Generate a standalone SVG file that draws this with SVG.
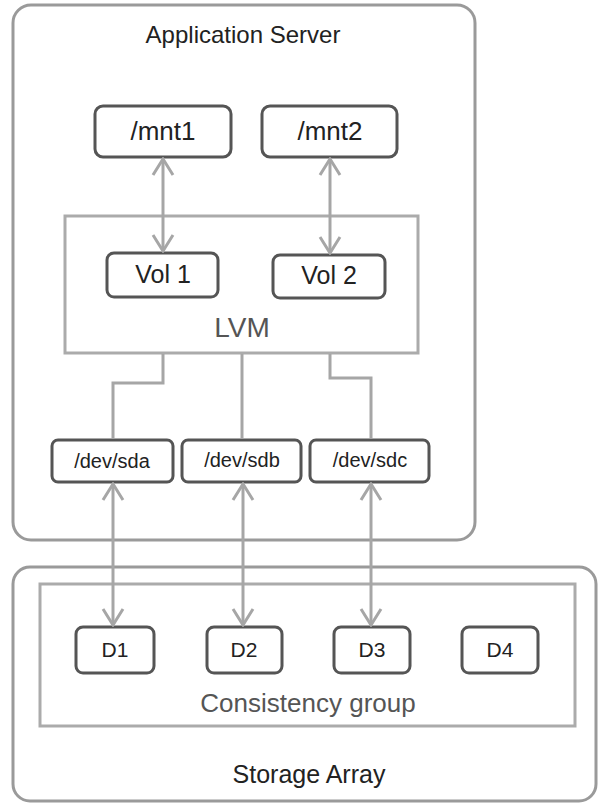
<svg xmlns="http://www.w3.org/2000/svg" width="598" height="803" viewBox="0 0 598 803">
  <style>
    .container { fill: #ffffff; stroke: #9a9a9a; stroke-width: 3; }
    .group { fill: none; stroke: #ababab; stroke-width: 3; }
    .node { fill: #ffffff; stroke: #555555; stroke-width: 3; }
    .conn { fill: none; stroke: #a6a6a6; stroke-width: 3; }
    .t { font-family: "Liberation Sans", Arial, sans-serif; text-anchor: middle; fill: #222222; }
    .tg { font-family: "Liberation Sans", Arial, sans-serif; text-anchor: middle; fill: #555555; }
  </style>
  <defs>
    <marker id="arr" viewBox="0 0 20 24" refX="18" refY="12" markerWidth="20" markerHeight="24" orient="auto-start-reverse" markerUnits="userSpaceOnUse">
      <path d="M2,2 L18,12 L2,22" fill="none" stroke="#a6a6a6" stroke-width="3"/>
    </marker>
  </defs>

  <g id="application-server">
    <rect class="container" x="13" y="5" width="462" height="535" rx="18"/>
    <text class="t" x="243" y="43" font-size="24">Application Server</text>
  </g>

  <g id="storage-array">
    <rect class="container" x="13" y="567" width="583" height="234" rx="17"/>
    <text class="t" x="309" y="783" font-size="25">Storage Array</text>
  </g>

  <g id="lvm">
    <rect class="group" x="65" y="216" width="353" height="137"/>
    <text class="tg" x="242" y="337" font-size="28">LVM</text>
  </g>

  <g id="consistency-group">
    <rect class="group" x="40" y="584" width="535" height="142"/>
    <text class="tg" x="308" y="712" font-size="26">Consistency group</text>
  </g>

  <g id="mnt1">
    <rect class="node" x="95" y="106" width="136" height="51" rx="8"/>
    <text class="t" x="163" y="140" font-size="26">/mnt1</text>
  </g>
  <g id="mnt2">
    <rect class="node" x="262" y="106" width="135" height="51" rx="8"/>
    <text class="t" x="330" y="140" font-size="26">/mnt2</text>
  </g>

  <g id="vol1">
    <rect class="node" x="107" y="253" width="111" height="44" rx="7"/>
    <text class="t" x="163" y="283" font-size="25">Vol 1</text>
  </g>
  <g id="vol2">
    <rect class="node" x="273" y="255" width="112" height="43" rx="7"/>
    <text class="t" x="329" y="284" font-size="25">Vol 2</text>
  </g>

  <g id="dev-sda">
    <rect class="node" x="52" y="440" width="121" height="42" rx="6"/>
    <text class="t" x="112" y="468" font-size="20">/dev/sda</text>
  </g>
  <g id="dev-sdb">
    <rect class="node" x="182" y="440" width="119" height="42" rx="6"/>
    <text class="t" x="242" y="467" font-size="20">/dev/sdb</text>
  </g>
  <g id="dev-sdc">
    <rect class="node" x="310" y="440" width="119" height="42" rx="6"/>
    <text class="t" x="370" y="467" font-size="20">/dev/sdc</text>
  </g>

  <g id="d1">
    <rect class="node" x="76" y="627" width="78" height="46" rx="7"/>
    <text class="t" x="115" y="657" font-size="21">D1</text>
  </g>
  <g id="d2">
    <rect class="node" x="207" y="627" width="75" height="46" rx="7"/>
    <text class="t" x="244" y="657" font-size="21">D2</text>
  </g>
  <g id="d3">
    <rect class="node" x="334" y="627" width="76" height="46" rx="7"/>
    <text class="t" x="372" y="657" font-size="21">D3</text>
  </g>
  <g id="d4">
    <rect class="node" x="462" y="627" width="76" height="46" rx="7"/>
    <text class="t" x="500" y="657" font-size="21">D4</text>
  </g>

  <g id="connectors">
    <line class="conn" x1="163" y1="159" x2="163" y2="251" marker-start="url(#arr)" marker-end="url(#arr)"/>
    <line class="conn" x1="330" y1="159" x2="330" y2="253" marker-start="url(#arr)" marker-end="url(#arr)"/>
    <polyline class="conn" points="163,354 163,383 113,383 113,439"/>
    <line class="conn" x1="242" y1="354" x2="242" y2="439"/>
    <polyline class="conn" points="330,354 330,378 371,378 371,439"/>
    <line class="conn" x1="113" y1="484" x2="113" y2="625" marker-start="url(#arr)" marker-end="url(#arr)"/>
    <line class="conn" x1="243" y1="484" x2="243" y2="625" marker-start="url(#arr)" marker-end="url(#arr)"/>
    <line class="conn" x1="371" y1="484" x2="371" y2="625" marker-start="url(#arr)" marker-end="url(#arr)"/>
  </g>
</svg>
